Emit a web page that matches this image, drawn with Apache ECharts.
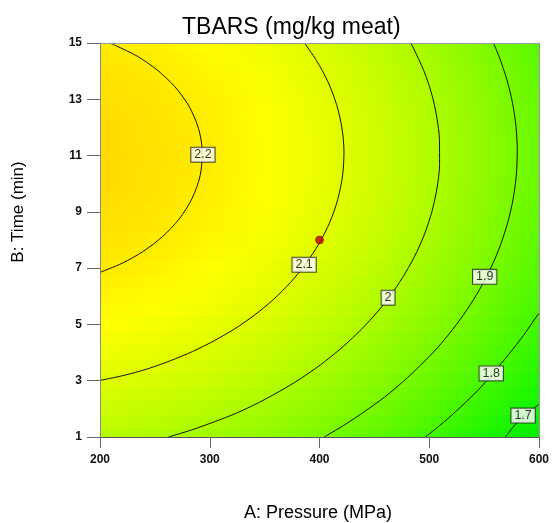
<!DOCTYPE html>
<html>
<head>
<meta charset="utf-8">
<title>TBARS (mg/kg meat)</title>
<script src="https://cdn.jsdelivr.net/npm/echarts@6/dist/echarts.min.js"></script>
<style>
  html, body { margin: 0; padding: 0; background: #fff; }
  #chart { width: 553px; height: 523px; }
</style>
</head>
<body>
<div id="chart"></div>
<script>
// Axis ticks
const pressureTicks = [200, 300, 400, 500, 600];
const timeTicks = [1, 3, 5, 7, 9, 11, 13, 15];

// Response grid: TBARS at each pressure column (MPa) for each time row (min)
const pressureStops = [200, 250, 300, 350, 400, 450, 500, 550, 600];
const timeRows = [15, 14.5, 14, 13.5, 13, 12.5, 12, 11.5, 11, 10.5, 10, 9.5, 9, 8.5, 8,
                  7.5, 7, 6.5, 6, 5.5, 5, 4.5, 4, 3.5, 3, 2.5, 2, 1.5, 1];
const tbarsGrid = [
  [2.202, 2.186, 2.162, 2.129, 2.088, 2.038, 1.979, 1.912, 1.836],
  [2.210, 2.194, 2.170, 2.137, 2.096, 2.046, 1.987, 1.920, 1.844],
  [2.217, 2.201, 2.177, 2.144, 2.103, 2.053, 1.994, 1.927, 1.851],
  [2.223, 2.207, 2.183, 2.150, 2.108, 2.058, 2.000, 1.932, 1.857],
  [2.228, 2.212, 2.188, 2.155, 2.113, 2.063, 2.004, 1.937, 1.861],
  [2.232, 2.216, 2.191, 2.158, 2.117, 2.067, 2.008, 1.941, 1.865],
  [2.235, 2.219, 2.194, 2.161, 2.119, 2.069, 2.010, 1.943, 1.867],
  [2.236, 2.220, 2.196, 2.163, 2.121, 2.071, 2.012, 1.945, 1.869],
  [2.237, 2.221, 2.196, 2.163, 2.121, 2.071, 2.012, 1.945, 1.869],
  [2.236, 2.220, 2.196, 2.162, 2.121, 2.070, 2.012, 1.944, 1.868],
  [2.235, 2.219, 2.194, 2.161, 2.119, 2.069, 2.010, 1.942, 1.866],
  [2.232, 2.216, 2.191, 2.158, 2.116, 2.066, 2.007, 1.939, 1.863],
  [2.228, 2.212, 2.187, 2.154, 2.112, 2.062, 2.003, 1.935, 1.859],
  [2.223, 2.207, 2.183, 2.149, 2.107, 2.057, 1.998, 1.930, 1.854],
  [2.218, 2.201, 2.177, 2.143, 2.101, 2.051, 1.992, 1.924, 1.848],
  [2.211, 2.194, 2.170, 2.136, 2.094, 2.044, 1.985, 1.917, 1.841],
  [2.203, 2.186, 2.161, 2.128, 2.086, 2.036, 1.976, 1.909, 1.833],
  [2.193, 2.177, 2.152, 2.119, 2.077, 2.026, 1.967, 1.899, 1.823],
  [2.183, 2.167, 2.142, 2.109, 2.067, 2.016, 1.957, 1.889, 1.813],
  [2.172, 2.156, 2.131, 2.097, 2.055, 2.004, 1.945, 1.877, 1.801],
  [2.160, 2.143, 2.118, 2.085, 2.043, 1.992, 1.933, 1.865, 1.788],
  [2.146, 2.130, 2.105, 2.071, 2.029, 1.978, 1.919, 1.851, 1.775],
  [2.132, 2.115, 2.090, 2.057, 2.014, 1.964, 1.904, 1.836, 1.760],
  [2.116, 2.100, 2.075, 2.041, 1.999, 1.948, 1.889, 1.821, 1.744],
  [2.100, 2.083, 2.058, 2.024, 1.982, 1.931, 1.872, 1.804, 1.727],
  [2.082, 2.065, 2.040, 2.006, 1.964, 1.913, 1.854, 1.786, 1.709],
  [2.063, 2.046, 2.021, 1.987, 1.945, 1.894, 1.835, 1.767, 1.690],
  [2.043, 2.026, 2.001, 1.967, 1.925, 1.874, 1.815, 1.747, 1.670],
  [2.022, 2.005, 1.980, 1.946, 1.904, 1.853, 1.793, 1.725, 1.649]
];

// Contour lines: [pressure, time] points along each level
const contourLevels = [2.2, 2.1, 2, 1.9, 1.8, 1.7];
const contour22 = [[200.0, 6.85], [220.5, 7.18], [239.5, 7.60], [256.9, 8.12], [272.0, 8.74],
  [283.8, 9.47], [291.2, 10.28], [293.2, 11.13], [289.7, 11.97], [281.0, 12.76],
  [268.1, 13.45], [252.1, 14.04], [234.0, 14.53], [214.1, 14.91], [208.4, 15.00]];
const contour21 = [[200.0, 3.01], [221.8, 3.19], [243.2, 3.42], [264.1, 3.71], [284.4, 4.04],
  [304.0, 4.42], [323.0, 4.85], [341.0, 5.34], [357.8, 5.88], [373.5, 6.49], [387.4, 7.15],
  [399.5, 7.87], [409.4, 8.63], [416.6, 9.44], [421.0, 10.28], [422.3, 11.13], [420.4, 11.99],
  [415.5, 12.82], [407.6, 13.63], [397.2, 14.38], [386.3, 15.00]];
const contour20 = [[262.4, 1.00], [283.4, 1.25], [304.1, 1.54], [324.5, 1.85], [344.5, 2.22],
  [363.9, 2.63], [382.6, 3.07], [400.7, 3.56], [417.8, 4.09], [434.1, 4.67], [449.3, 5.29],
  [463.2, 5.95], [475.6, 6.66], [486.4, 7.40], [495.4, 8.18], [502.3, 8.99], [507.0, 9.83],
  [509.4, 10.68], [509.3, 11.54], [506.8, 12.38], [502.0, 13.22], [494.9, 14.03],
  [485.7, 14.81], [483.1, 15.00]];
const contour19 = [[404.2, 1.00], [423.2, 1.44], [441.6, 1.92], [459.3, 2.42], [476.2, 2.97],
  [492.3, 3.56], [507.5, 4.17], [521.5, 4.83], [534.5, 5.53], [546.0, 6.25], [556.2, 7.01],
  [564.7, 7.80], [571.5, 8.62], [576.4, 9.45], [579.3, 10.30], [580.2, 11.15], [579.1, 12.01],
  [575.9, 12.86], [570.8, 13.69], [563.8, 14.50], [558.4, 15.00]];
const contour18 = [[496.5, 1.00], [513.0, 1.52], [529.0, 2.08], [544.6, 2.67], [558.5, 3.28],
  [572.5, 3.94], [586.0, 4.62], [598.6, 5.33], [600.0, 5.40]];
const contour17 = [[569.5, 1.00], [583.6, 1.68], [598.7, 2.12], [600.0, 2.16]];
const contourLines = [contour22, contour21, contour20, contour19, contour18, contour17];

// Where each level's value is written on its contour
const contourLabelAt = [[293.8, 11.03], [386.0, 7.12], [462.5, 5.95], [550.5, 6.69], [556.5, 3.26], [585.5, 1.76]];

// Design centre point
const centerPoint = [[400, 8]];

// Colour ramp: value -> RGB
const ramp = [
  [1.60, [0, 220, 0]],
  [1.68, [8, 245, 0]],
  [2.16, [255, 255, 0]],
  [2.24, [255, 216, 0]],
  [2.32, [255, 180, 0]]
];
function rampColor(v) {
  if (v <= ramp[0][0]) return 'rgb(' + ramp[0][1].join(',') + ')';
  for (let i = 1; i < ramp.length; i++) {
    if (v <= ramp[i][0]) {
      const [v0, c0] = ramp[i - 1], [v1, c1] = ramp[i];
      const f = (v - v0) / (v1 - v0);
      return 'rgb(' + c0.map((c, k) => Math.round(c + (c1[k] - c) * f)).join(',') + ')';
    }
  }
  return 'rgb(' + ramp[ramp.length - 1][1].join(',') + ')';
}

const FONT = "'Liberation Sans', Arial, sans-serif";
const xMin = pressureTicks[0], xMax = pressureTicks[pressureTicks.length - 1];
const yMin = timeTicks[0], yMax = timeTicks[timeTicks.length - 1];
const halfRow = Math.abs(timeRows[0] - timeRows[1]) / 2;

const chart = echarts.init(document.getElementById('chart'), null, { renderer: 'canvas' });

const surfaceData = timeRows.map((t, i) => [t].concat(tbarsGrid[i]));

const series = [{
  // shaded response surface, one horizontal strip per time row
  type: 'custom',
  silent: true,
  z: 1,
  encode: { x: 1, y: 0 },
  data: surfaceData,
  renderItem: function (params, api) {
    const t = api.value(0);
    const hi = Math.min(yMax, t + halfRow), lo = Math.max(yMin, t - halfRow);
    const p0 = api.coord([xMin, hi]);
    const p1 = api.coord([xMax, lo]);
    const y0 = Math.floor(p0[1]), y1 = Math.ceil(p1[1]);
    const stops = pressureStops.map((p, k) => ({
      offset: (p - xMin) / (xMax - xMin),
      color: rampColor(api.value(k + 1))
    }));
    return {
      type: 'rect',
      shape: { x: p0[0], y: y0, width: p1[0] - p0[0], height: y1 - y0 },
      style: { fill: new echarts.graphic.LinearGradient(0, 0, 1, 0, stops) }
    };
  }
}];

contourLines.forEach((pts, i) => {
  series.push({
    type: 'line',
    name: String(contourLevels[i]),
    data: pts,
    smooth: 0.3,
    showSymbol: false,
    silent: true,
    z: 3,
    lineStyle: { color: '#151515', width: 1 }
  });
});

series.push({
  type: 'scatter',
  silent: true,
  z: 6,
  symbolSize: 1,
  itemStyle: { color: 'rgba(0,0,0,0)' },
  data: contourLabelAt.map((p, i) => [p[0], p[1], contourLevels[i]]),
  label: {
    show: true,
    position: 'inside',
    formatter: (p) => String(p.value[2]),
    fontFamily: FONT,
    fontSize: 12.5,
    color: '#000',
    backgroundColor: '#fff',
    borderColor: '#222',
    borderWidth: 1,
    padding: [1, 3, 0, 3]
  }
});

series.push({
  type: 'scatter',
  silent: true,
  z: 7,
  symbol: 'circle',
  symbolSize: 8,
  data: centerPoint,
  itemStyle: { color: '#c00000', borderColor: '#6a0000', borderWidth: 0.6 }
});

const axisCommon = {
  type: 'value',
  z: 5,
  splitLine: { show: false }
};

chart.setOption({
  animation: false,
  backgroundColor: '#fff',
  title: {
    text: 'TBARS (mg/kg meat)',
    left: 182,
    top: 16,
    padding: 0,
    textStyle: { fontFamily: FONT, fontSize: 23, fontWeight: 'normal', color: '#000' }
  },
  grid: { left: 100, top: 43, width: 439, height: 394, show: false },
  xAxis: [
    Object.assign({}, axisCommon, {
      position: 'bottom',
      min: xMin, max: xMax, interval: 100,
      axisLine: { show: true, lineStyle: { color: '#555', width: 1 } },
      axisTick: { show: true, length: 11, lineStyle: { color: '#666' }, customValues: pressureTicks },
      axisLabel: { show: true, margin: 17, fontFamily: FONT, fontSize: 12, fontWeight: 'bold', color: '#111',
                   customValues: pressureTicks }
    }),
    Object.assign({}, axisCommon, {
      position: 'top',
      min: xMin, max: xMax,
      axisLine: { show: true, lineStyle: { color: '#999', width: 1 } },
      axisTick: { show: false },
      axisLabel: { show: false }
    })
  ],
  yAxis: [
    Object.assign({}, axisCommon, {
      position: 'left',
      min: yMin, max: yMax, interval: 2,
      axisLine: { show: true, lineStyle: { color: '#888', width: 1 } },
      axisTick: { show: true, length: 13, lineStyle: { color: '#666' }, customValues: timeTicks },
      axisLabel: { show: true, margin: 18, fontFamily: FONT, fontSize: 12, fontWeight: 'bold', color: '#111',
                   customValues: timeTicks }
    }),
    Object.assign({}, axisCommon, {
      position: 'right',
      min: yMin, max: yMax,
      axisLine: { show: true, lineStyle: { color: '#999', width: 1 } },
      axisTick: { show: false },
      axisLabel: { show: false }
    })
  ],
  graphic: [
    {
      type: 'text',
      x: 318, y: 513,
      silent: true,
      style: { text: 'A: Pressure (MPa)', fontFamily: FONT, fontSize: 18, fill: '#000',
               align: 'center', verticalAlign: 'middle' }
    },
    {
      type: 'text',
      x: 18, y: 212,
      rotation: Math.PI / 2,
      silent: true,
      style: { text: 'B: Time (min)', fontFamily: FONT, fontSize: 17, fill: '#000',
               align: 'center', verticalAlign: 'middle' }
    }
  ],
  series: series
});
</script>
</body>
</html>
